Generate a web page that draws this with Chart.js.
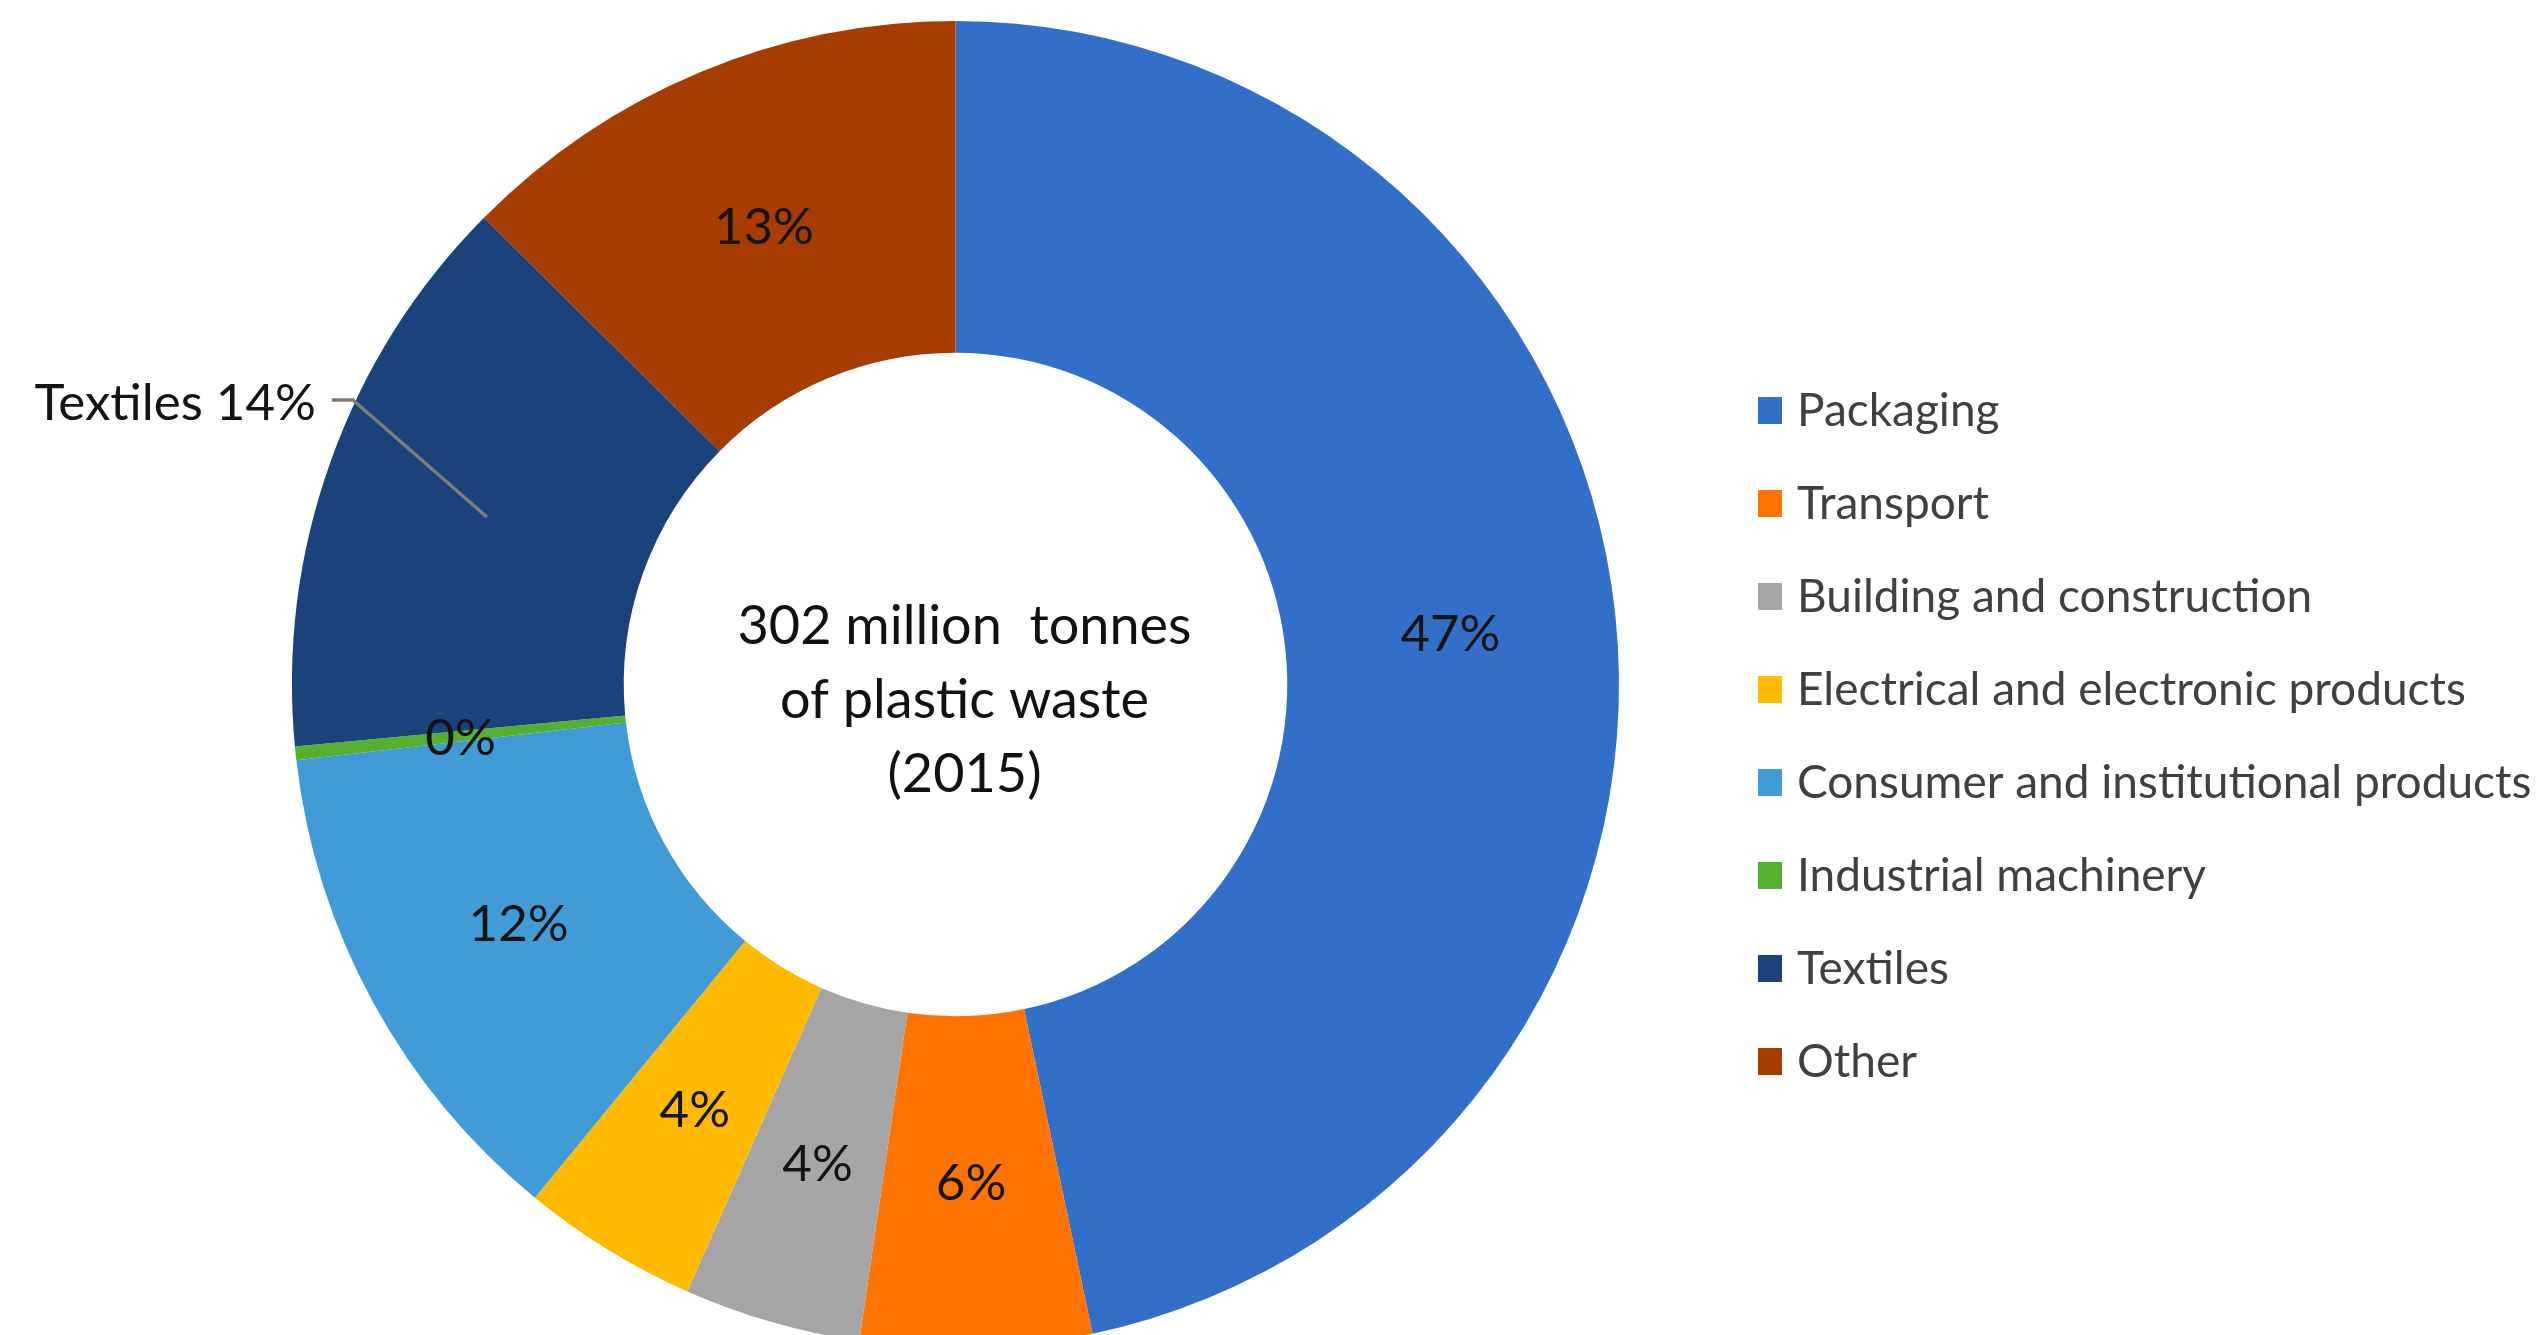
<!DOCTYPE html>
<html>
<head>
<meta charset="utf-8">
<title>Plastic waste by sector</title>
<script src="https://cdn.jsdelivr.net/npm/chart.js@4.4.1/dist/chart.umd.min.js"></script>
<style>
  html, body { margin: 0; padding: 0; background: #fff; overflow: hidden; }
  #wrap { position: relative; width: 2546px; height: 1400px; }
</style>
</head>
<body>
<div id="wrap"><canvas id="wasteChart"></canvas></div>
<script>
// Plastic waste generated by industrial sector in 2015 (million tonnes)
const sectors = [
  "Packaging",
  "Transport",
  "Building and construction",
  "Electrical and electronic products",
  "Consumer and institutional products",
  "Industrial machinery",
  "Textiles",
  "Other"
];
const wasteMt = [141, 17, 13, 13, 37, 1, 42, 38];
const sectorColors = ["#316FC8", "#FF7300", "#A5A5A5", "#FFBA00", "#419BD7", "#56B030", "#1A427B", "#A63C00"];
const centerLines = ["302 million  tonnes", "of plastic waste", "(2015)"];
// these get their label outside the ring with a leader line
const calloutSectors = ["Textiles"];

const FONT = "Lato, 'Open Sans', sans-serif";

const labelPlugin = {
  id: "wasteLabels",
  afterDatasetsDraw(chart) {
    const ctx = chart.ctx;
    const meta = chart.getDatasetMeta(0);
    const data = chart.data.datasets[0].data;
    const colors = chart.data.datasets[0].backgroundColor;
    const total = data.reduce((a, b) => a + b, 0);

    ctx.save();
    ctx.textBaseline = "middle";

    // percentage labels on the ring
    ctx.font = "51px " + FONT;
    ctx.fillStyle = "#141414";
    meta.data.forEach((arc, i) => {
      const pct = Math.round(data[i] / total * 100) + "%";
      const p = arc.tooltipPosition();
      const name = chart.data.labels[i];
      if (calloutSectors.includes(name)) {
        const ex = p.x - 134, ey = p.y - 117;
        ctx.strokeStyle = "#7c7c7c";
        ctx.lineWidth = 3.5;
        ctx.beginPath();
        ctx.moveTo(p.x, p.y);
        ctx.lineTo(ex, ey);
        ctx.lineTo(ex - 21, ey);
        ctx.stroke();
        ctx.textAlign = "right";
        ctx.fillText(name + " " + pct, ex - 37, ey + 4);
      } else {
        ctx.textAlign = "center";
        ctx.fillText(pct, p.x, p.y + 2);
      }
    });

    // text in the hole
    const arc0 = meta.data[0];
    ctx.font = "54px " + FONT;
    ctx.fillStyle = "#111";
    ctx.textAlign = "center";
    centerLines.forEach((line, k) => {
      ctx.fillText(line, arc0.x + 9, arc0.y - 58 + k * 74);
    });

    // legend on the right
    ctx.font = "46px " + FONT;
    ctx.textAlign = "left";
    chart.data.labels.forEach((name, i) => {
      const y = 410 + i * 93;
      ctx.fillStyle = colors[i];
      ctx.fillRect(1758, y - 13, 24, 27);
      ctx.fillStyle = "#404040";
      ctx.fillText(name, 1797, y + 1);
    });

    ctx.restore();
  }
};

new Chart(document.getElementById("wasteChart"), {
  type: "doughnut",
  data: {
    labels: sectors,
    datasets: [{
      data: wasteMt,
      backgroundColor: sectorColors,
      borderWidth: 0,
      hoverOffset: 0
    }]
  },
  options: {
    responsive: true,
    maintainAspectRatio: false,
    animation: false,
    cutout: "50%",
    layout: { padding: { left: 292, right: 927, top: 21, bottom: 52 } },
    plugins: {
      legend: { display: false },
      tooltip: { enabled: false }
    }
  },
  plugins: [labelPlugin]
});
</script>
</body>
</html>
